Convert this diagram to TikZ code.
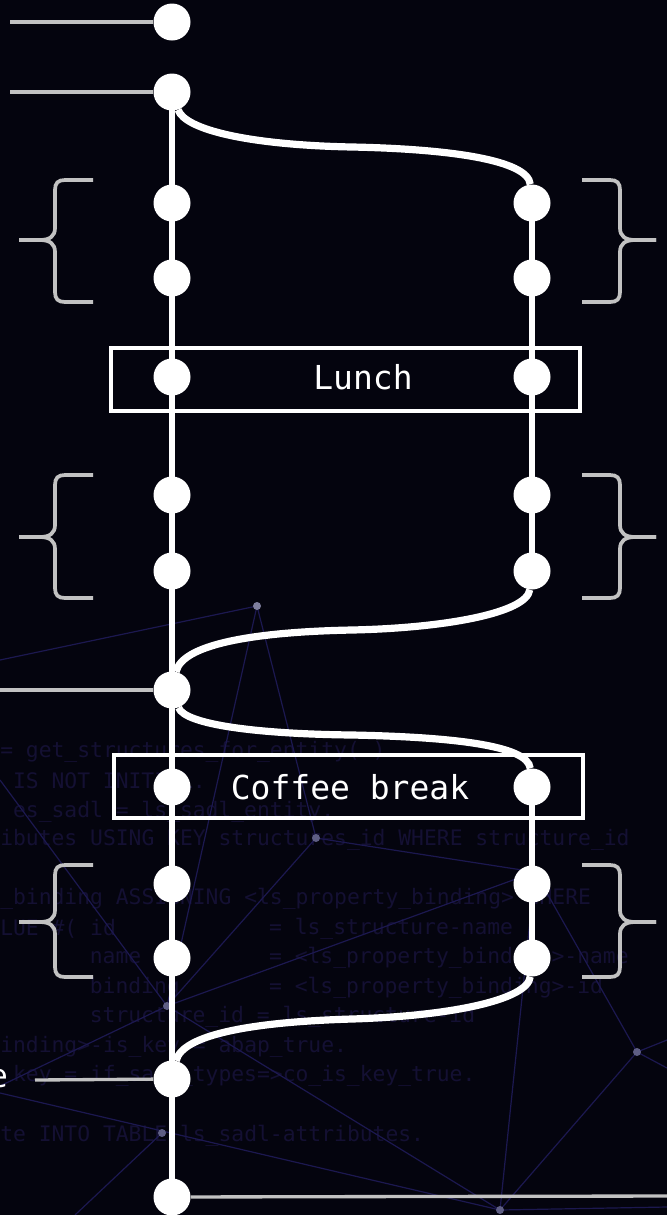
\documentclass[tikz,border=0pt]{standalone}
\usepackage{fontspec}
\setmonofont{DejaVu Sans Mono}
\newfontfamily\labelfont{Open Sans}
\pgfdeclarelayer{bg}
\pgfdeclarelayer{lines}
\pgfsetlayers{bg,lines,main}
\definecolor{bgcol}{HTML}{04040E}
\definecolor{greycol}{HTML}{C2C2C2}
\definecolor{netcol}{HTML}{1C1850}
\definecolor{netdot}{HTML}{5E5E84}
\definecolor{codecol}{HTML}{141033}
\newcommand\mybrace[3]{%
  \draw[bracest] (93,#1) -- (65,#1) .. controls (58,#1) and (55,#1+3) .. (55,#1+10)
     -- (55,#3-12) .. controls (55,#3-4) and (50,#3) .. (40,#3) -- (19,#3);
  \draw[bracest] (19,#3) -- (40,#3) .. controls (50,#3) and (55,#3+4) .. (55,#3+12)
     -- (55,#2-10) .. controls (55,#2-3) and (58,#2) .. (65,#2) -- (93,#2);
}
\begin{document}
\begin{tikzpicture}[x=0.75pt,y=-0.75pt,
  dot/.style={circle, fill=white, minimum size=27.75pt, inner sep=0pt},
  netdotst/.style={circle, fill=netdot, minimum size=6pt, inner sep=0pt},
  wline/.style={white, line width=5pt},
  wcurve/.style={white, line width=5.4pt},
  gline/.style={greycol, line width=2.5pt},
  bracest/.style={greycol, line width=2.8pt},
  boxst/.style={draw=white, line width=3pt, minimum width=351.75pt, minimum height=47.25pt, inner sep=0pt},
  boxtext/.style={text=white, font=\ttfamily\fontsize{24.75}{30}\selectfont, inner sep=0pt},
  code/.style={text=codecol, font=\ttfamily\fontsize{16}{19}\selectfont, anchor=west, inner sep=0pt},
  net/.style={netcol, line width=0.9pt}]
\useasboundingbox (0,0) rectangle (667,1215);

% ---------- nodes ----------
\node[dot] (L1) at (172,22) {};
\node[dot] (L2) at (172,92) {};
\node[dot] (L3) at (172,203) {};
\node[dot] (L4) at (172,278) {};
\node[dot] (L5) at (172,377) {};
\node[dot] (L6) at (172,495) {};
\node[dot] (L7) at (172,571) {};
\node[dot] (L8) at (172,690) {};
\node[dot] (L9) at (172,787) {};
\node[dot] (L10) at (172,884) {};
\node[dot] (L11) at (172,958) {};
\node[dot] (L12) at (172,1079) {};
\node[dot] (L13) at (172,1197) {};
\node[dot] (R1) at (532,203) {};
\node[dot] (R2) at (532,278) {};
\node[dot] (R3) at (532,377) {};
\node[dot] (R4) at (532,495) {};
\node[dot] (R5) at (532,571) {};
\node[dot] (R6) at (532,787) {};
\node[dot] (R7) at (532,884) {};
\node[dot] (R8) at (532,958) {};

\node[boxst] (lunchbox) at (345.5,379.5) {};
\node[boxtext] (lunchtxt) at (363,377) {Lunch};
\node[boxst] (coffeebox) at (348.5,786.5) {};
\node[boxtext] (coffeetxt) at (350,787) {Coffee break};

\node[anchor=east, text=white, font=\labelfont\fontsize{25}{30}\selectfont, inner sep=0pt] (elab) at (8,1079) {e};

\coordinate (h1) at (10,22);
\coordinate (h2) at (10,92);
\coordinate (h3) at (0,690);
\coordinate (h4) at (35,1080);
\coordinate (h5) at (667,1196);

\coordinate (mA) at (352,147);
\coordinate (mB) at (352,630);
\coordinate (mC) at (352,735);
\coordinate (mD) at (352,1019);

% braces
\mybrace{180}{302}{240}
\mybrace{475}{598}{537}
\mybrace{865}{977}{922}
\begin{scope}[xshift=506.25pt, xscale=-1]
\mybrace{180}{302}{240}
\mybrace{475}{598}{537}
\mybrace{865}{977}{922}
\end{scope}

% ---------- connectors ----------
\begin{pgfonlayer}{lines}
\draw[wline] (L2.center) -- (L13.center);
\draw[wline] (R1.center) -- (R5.center);
\draw[wline] (R6.center) -- (R8.center);
\draw[wcurve] (L2) .. controls (185,130) and (250,145) .. (mA) .. controls (450,149) and (528,160) .. (R1);
\draw[wcurve] (R5) .. controls (527,613) and (445,628) .. (mB) .. controls (250,632) and (182,645) .. (L8);
\draw[wcurve] (L8) .. controls (185,725) and (260,734) .. (mC) .. controls (450,737) and (528,745) .. (R6);
\draw[wcurve] (R8) .. controls (528,1000) and (450,1016) .. (mD) .. controls (250,1022) and (182,1035) .. (L12);
\draw[gline] (h1) -- (L1);
\draw[gline] (h2) -- (L2);
\draw[gline] (h3) -- (L8);
\draw[gline] (h4) -- (L12);
\draw[gline] (L13) -- (h5);
\end{pgfonlayer}

% ---------- background ----------
\begin{pgfonlayer}{bg}
\fill[bgcol] (0,0) rectangle (667,1215);
% blurred code
\node[code] at (0,752) {= get\_structures\_for\_entity( ).};
\node[code] at (12.8,781) {IS NOT INITIAL.};
\node[code] at (12.8,812) {es\_sadl = ls\_sadl\_entity.};
\node[code] at (0,840) {ibutes USING KEY structures\_id WHERE structure\_id};
\node[code] at (0,899) {\_binding ASSIGNING <ls\_property\_binding> WHERE};
\node[code] at (0,929) {LUE \#( id};
\node[code] at (268.8,929) {= ls\_structure-name};
\node[code] at (89.6,958) {name};
\node[code] at (268.8,958) {= <ls\_property\_binding>-name};
\node[code] at (89.6,988) {binding};
\node[code] at (268.8,988) {= <ls\_property\_binding>-id};
\node[code] at (89.6,1017) {structure\_id = ls\_structure-id};
\node[code] at (0,1047) {inding>-is\_key = abap\_true.};
\node[code] at (12.8,1076) {key = if\_sadl\_types=>co\_is\_key\_true.};
\node[code] at (0,1136) {te INTO TABLE ls\_sadl-attributes.};
% network
\coordinate (n1) at (257,606);
\coordinate (n2) at (316,838);
\coordinate (n3) at (167,1006);
\coordinate (n4) at (535,872);
\coordinate (n5) at (637,1052);
\coordinate (n6) at (500,1210);
\coordinate (n7) at (162,1133);
\draw[net] (n1) -- (0,660);
\draw[net] (n1) -- (n2);
\draw[net] (n1) -- (n3);
\draw[net] (n2) -- (n4);
\draw[net] (n2) -- (n3);
\draw[net] (n3) -- (n4);
\draw[net] (0,780) -- (n3);
\draw[net] (n3) -- (n6);
\draw[net] (n3) -- (0,1086);
\draw[net] (n4) -- (n5);
\draw[net] (n4) -- (n6);
\draw[net] (n5) -- (n6);
\draw[net] (n5) -- (667,1040);
\draw[net] (n5) -- (667,1068);
\draw[net] (n6) -- (667,1207);
\draw[net] (0,1093) -- (n6);
\draw[net] (n7) -- (75,1215);
\node[netdotst, fill=netdot!80!white] at (n1) {};
\node[netdotst] at (n2) {};
\node[netdotst] at (n3) {};
\node[netdotst] at (n5) {};
\node[netdotst] at (n6) {};
\node[netdotst] at (n7) {};
\end{pgfonlayer}
\end{tikzpicture}
\end{document}
